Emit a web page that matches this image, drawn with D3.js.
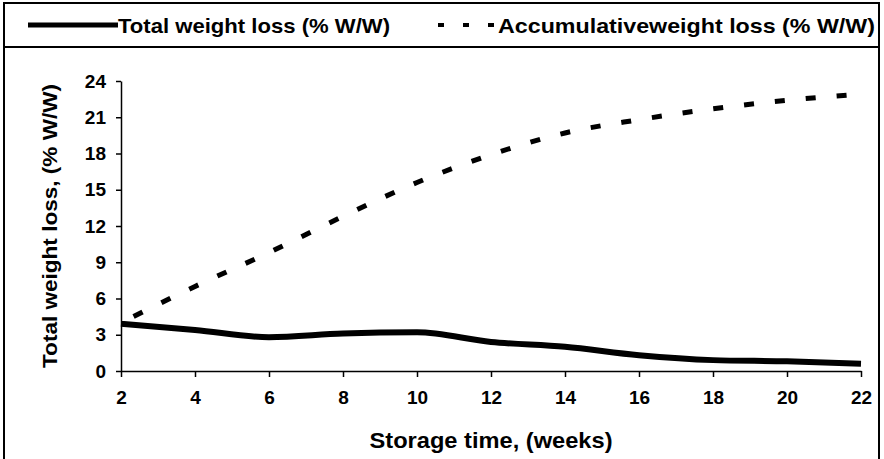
<!DOCTYPE html>
<html>
<head>
<meta charset="utf-8">
<script src="https://cdn.jsdelivr.net/npm/d3@7"></script>
<style>
  html, body { margin: 0; padding: 0; background: #fff; }
  svg { display: block; }
  text { font-family: "Liberation Sans", Arial, sans-serif; font-weight: bold; fill: #000; }
</style>
</head>
<body>
<svg id="chart" width="884" height="459"></svg>
<script>
// ---- data ----
const weeks = [2, 4, 6, 8, 10, 12, 14, 16, 18, 20, 22];
const totalLoss = [3.9, 3.4, 2.8, 3.1, 3.2, 2.4, 2.0, 1.3, 0.9, 0.8, 0.6];
const accumLoss = [4.0, 7.0, 9.8, 12.8, 15.6, 17.9, 19.7, 20.8, 21.7, 22.4, 22.9];
const yTicks = [0, 3, 6, 9, 12, 15, 18, 21, 24];
const xTicks = [2, 4, 6, 8, 10, 12, 14, 16, 18, 20, 22];
const seriesNames = ["Total weight loss  (% W/W)", "Accumulativeweight loss (% W/W)"];
const xTitle = "Storage time, (weeks)";
const yTitle = "Total weight loss,  (% W/W)";

// ---- layout ----
const svg = d3.select("#chart");
const plot = { left: 121, right: 861, top: 81, bottom: 371 };

const x = d3.scaleLinear().domain([2, 22]).range([plot.left, plot.right]);
const y = d3.scaleLinear().domain([0, 24]).range([plot.bottom, plot.top]);

// frame
svg.append("path")
  .attr("d", "M4,459 V3 H879 V459")
  .attr("fill", "none").attr("stroke", "#000").attr("stroke-width", 2);
svg.append("line")
  .attr("x1", 4).attr("x2", 879).attr("y1", 47).attr("y2", 47)
  .attr("stroke", "#000").attr("stroke-width", 2);

// legend
const leg = svg.append("g");
leg.append("line").attr("x1", 28).attr("x2", 118).attr("y1", 25).attr("y2", 25)
  .attr("stroke", "#000").attr("stroke-width", 5);
leg.append("text").attr("x", 118).attr("y", 33).attr("font-size", 21)
  .attr("textLength", 272).attr("lengthAdjust", "spacingAndGlyphs").text(seriesNames[0]);
leg.append("line").attr("x1", 438).attr("x2", 494).attr("y1", 25).attr("y2", 25)
  .attr("stroke", "#000").attr("stroke-width", 4).attr("stroke-dasharray", "6,19");
leg.append("text").attr("x", 498).attr("y", 33).attr("font-size", 21)
  .attr("textLength", 377).attr("lengthAdjust", "spacingAndGlyphs").text(seriesNames[1]);

// axes
const xAxis = svg.append("g").attr("transform", `translate(0,${plot.bottom})`)
  .call(d3.axisBottom(x).tickValues(xTicks).tickSize(6).tickPadding(14).tickSizeOuter(0));
const yAxis = svg.append("g").attr("transform", `translate(${plot.left},0)`)
  .call(d3.axisLeft(y).tickValues(yTicks).tickSize(5).tickPadding(10).tickSizeOuter(0));
[xAxis, yAxis].forEach(g => {
  g.select(".domain").attr("stroke", "#000").attr("stroke-width", 1.5);
  g.selectAll(".tick line").attr("stroke", "#000").attr("stroke-width", 1.5);
  g.selectAll(".tick text").attr("font-size", 19).attr("font-family", "Liberation Sans, Arial, sans-serif")
    .attr("font-weight", "bold").attr("fill", "#000");
});

// titles
svg.append("text").attr("x", (plot.left + plot.right) / 2).attr("y", 448)
  .attr("text-anchor", "middle").attr("font-size", 22)
  .attr("textLength", 243).attr("lengthAdjust", "spacingAndGlyphs").text(xTitle);
svg.append("text")
  .attr("transform", `translate(57,${(plot.top + plot.bottom) / 2}) rotate(-90)`)
  .attr("text-anchor", "middle").attr("font-size", 21)
  .attr("textLength", 284).attr("lengthAdjust", "spacingAndGlyphs").text(yTitle);

// lines
const line = d3.line().curve(d3.curveMonotoneX);
svg.append("path")
  .attr("d", line(weeks.map((w, i) => [x(w), y(accumLoss[i])])))
  .attr("fill", "none").attr("stroke", "#000").attr("stroke-width", 5)
  .attr("stroke-dasharray", "10,21").attr("stroke-dashoffset", -14);
svg.append("path")
  .attr("d", line(weeks.map((w, i) => [x(w), y(totalLoss[i])])))
  .attr("fill", "none").attr("stroke", "#000").attr("stroke-width", 6);
</script>
</body>
</html>
